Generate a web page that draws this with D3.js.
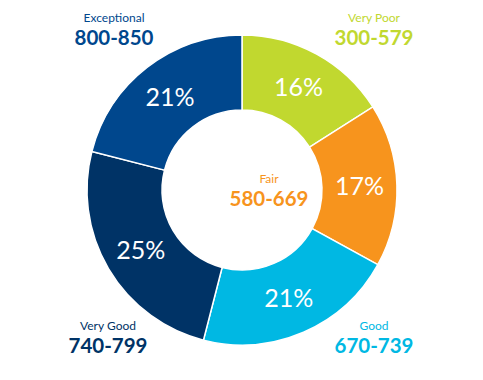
<!DOCTYPE html>
<html><head><meta charset="utf-8">
<script src="https://cdn.jsdelivr.net/npm/d3@7"></script>
<style>html,body{margin:0;padding:0;background:#fff;}svg{display:block;}</style>
</head><body>
<svg id="chart" width="483" height="380"></svg>
<script>
const categories = ["Very Poor", "Fair", "Good", "Very Good", "Exceptional"];
const ranges = ["300-579", "580-669", "670-739", "740-799", "800-850"];
const shares = [16, 17, 21, 25, 21];
const colors = ["#c1d82f", "#f7941d", "#00b8e3", "#003366", "#00478d"];

const W = 483, H = 380;
const cx = 242, cy = 190, rOuter = 155, rInner = 80;
const svg = d3.select("#chart");
const g = svg.append("g").attr("transform", `translate(${cx},${cy})`);

const data = categories.map((c, i) => ({cat: c, range: ranges[i], v: shares[i], color: colors[i]}));
const pie = d3.pie().value(d => d.v).sort(null);
const arc = d3.arc().innerRadius(rInner).outerRadius(rOuter);
const arcs = pie(data);

g.selectAll("path").data(arcs).join("path")
  .attr("d", arc).attr("fill", d => d.data.color)
  .attr("stroke", "#fff").attr("stroke-width", 1.5);

g.selectAll("text.pct").data(arcs).join("text")
  .attr("class", "pct")
  .attr("transform", d => `translate(${arc.centroid(d)})`)
  .attr("text-anchor", "middle").attr("dy", "0.36em")
  .attr("fill", "#fff").attr("font-family", "Lato, sans-serif")
  .attr("font-weight", 400).attr("font-size", 25)
  .text(d => d.data.v + "%");

// category label anchor offsets relative to the donut center
const labelPos = {
  "Very Poor": [132, -168],
  "Exceptional": [-128, -168],
  "Fair": [27, -7],
  "Very Good": [-134, 140],
  "Good": [132, 140]
};
data.forEach(d => {
  const [dx, dy] = labelPos[d.cat];
  g.append("text").attr("text-anchor", "middle")
    .attr("font-family", "Lato, sans-serif").attr("fill", d.color)
    .attr("x", dx).attr("y", dy).attr("font-size", 12).attr("font-weight", 400).text(d.cat);
  g.append("text").attr("text-anchor", "middle")
    .attr("font-family", "Lato, sans-serif").attr("fill", d.color)
    .attr("x", dx).attr("y", dy + 23).attr("font-size", 20.5).attr("font-weight", 700).text(d.range);
});
</script>
</body></html>
